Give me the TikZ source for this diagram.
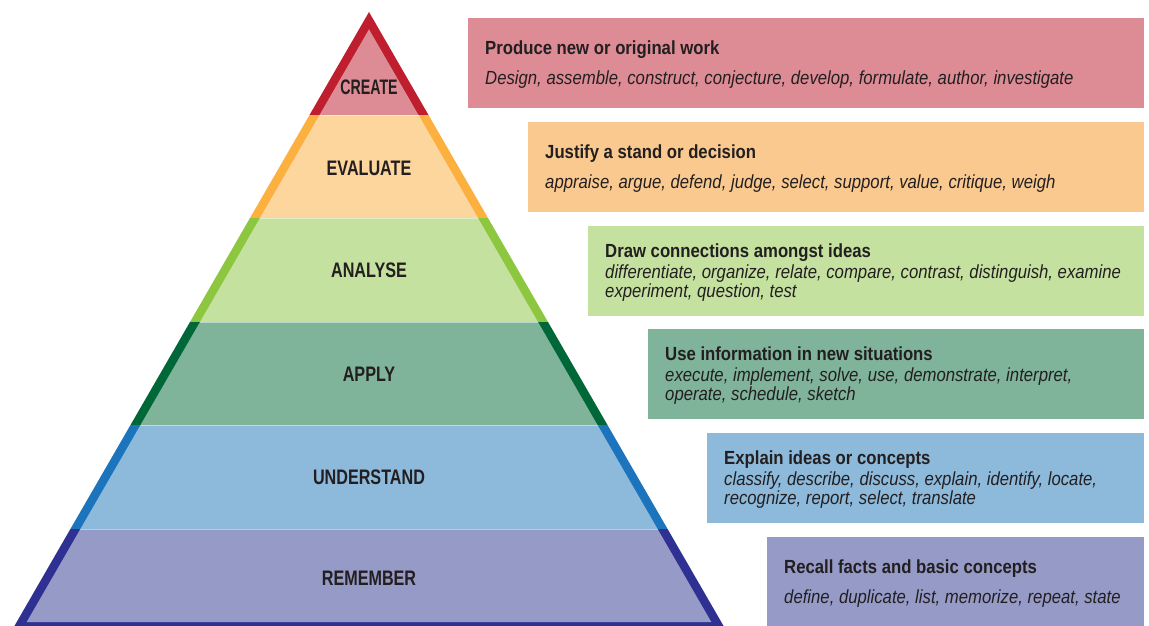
\documentclass[tikz,border=0pt]{standalone}
\usepackage{fontspec}
\setmainfont[FakeStretch=0.88]{Liberation Sans}
\newfontfamily\levelfont[FakeStretch=0.77]{Liberation Sans}
\usepackage{tikz}
\usetikzlibrary{positioning,calc}
\usepackage{xcolor}
\definecolor{inkgray}{RGB}{35,31,32}
\definecolor{createdark}{RGB}{190,30,45}
\definecolor{createlight}{RGB}{221,139,148}
\definecolor{evaluatedark}{RGB}{251,176,64}
\definecolor{evaluatelight}{RGB}{252,214,157}
\definecolor{evaluatebox}{RGB}{249,201,143}
\definecolor{analysedark}{RGB}{141,198,63}
\definecolor{analyselight}{RGB}{197,225,160}
\definecolor{applydark}{RGB}{0,104,56}
\definecolor{applylight}{RGB}{127,179,154}
\definecolor{understanddark}{RGB}{28,117,188}
\definecolor{understandlight}{RGB}{141,185,219}
\definecolor{rememberdark}{RGB}{46,49,146}
\definecolor{rememberlight}{RGB}{149,154,199}
\tikzstyle{verbbox} = [rectangle, anchor=north west, inner sep=0pt, minimum height=89.5pt]
\tikzstyle{verbtext} = [anchor=west, align=left, inner sep=0pt, yshift=-2pt, text=inkgray, font=\fontsize{19}{19}\selectfont]
\tikzstyle{levellabel} = [text=inkgray, font=\levelfont\bfseries\fontsize{21}{22}\selectfont]
\tikzstyle{seam} = [white, opacity=0.45, line width=0.8pt]

\begin{document}
\begin{tikzpicture}[x=1pt, y=-1pt]
\useasboundingbox (0,0) rectangle (1149,626);

% Create
\fill[createdark] (369,12) -- (428.5,115) -- (309.5,115) -- cycle;
\fill[createlight] (369,29.3) -- (418.5,115) -- (319.5,115) -- cycle;
\node[levellabel] (create) at (369,87) {\scalebox{0.88}[1]{CREATE}};

% Evaluate
\fill[evaluatedark] (309.5,115) -- (428.5,115) -- (488,218) -- (250,218) -- cycle;
\fill[evaluatelight] (319.5,115) -- (418.5,115) -- (478,218) -- (260,218) -- cycle;
\draw[seam] (319.5,115) -- (418.5,115);
\node[levellabel] (evaluate) at (369,168) {EVALUATE};

% Analyse
\fill[analysedark] (250,218) -- (488,218) -- (548,322) -- (190,322) -- cycle;
\fill[analyselight] (260,218) -- (478,218) -- (538,322) -- (200,322) -- cycle;
\draw[seam] (260,218) -- (478,218);
\node[levellabel] (analyse) at (369,270) {ANALYSE};

% Apply
\fill[applydark] (190,322) -- (548,322) -- (607.5,425) -- (130.5,425) -- cycle;
\fill[applylight] (200,322) -- (538,322) -- (597.5,425) -- (140.5,425) -- cycle;
\draw[seam] (200,322) -- (538,322);
\node[levellabel] (apply) at (369,374) {APPLY};

% Understand
\fill[understanddark] (130.5,425) -- (607.5,425) -- (667.6,529) -- (70.4,529) -- cycle;
\fill[understandlight] (140.5,425) -- (597.5,425) -- (657.6,529) -- (80.4,529) -- cycle;
\draw[seam] (140.5,425) -- (597.5,425);
\node[levellabel] (understand) at (369,477) {UNDERSTAND};

% Remember
\fill[rememberdark] (70.4,529) -- (667.6,529) -- (723.6,626) -- (14.4,626) -- cycle;
\fill[rememberlight] (80.4,529) -- (657.6,529) -- (711.3,622) -- (26.7,622) -- cycle;
\draw[seam] (80.4,529) -- (657.6,529);
\node[levellabel] (remember) at (369,578) {REMEMBER};

% Verb boxes
\node[verbbox, fill=createlight, minimum width=676pt] (createbox) at (468,18) {};
\node[verbtext, right=17pt of createbox.west] (createtext) {
\textbf{Produce new or original work}\\[11pt]
\textit{Design, assemble, construct, conjecture, develop, formulate, author, investigate}
};

\node[verbbox, fill=evaluatebox, minimum width=616pt] (evaluatebox) at (528,122) {};
\node[verbtext, right=17pt of evaluatebox.west] (evaluatetext) {
\textbf{Justify a stand or decision}\\[11pt]
\textit{appraise, argue, defend, judge, select, support, value, critique, weigh}
};

\node[verbbox, fill=analyselight, minimum width=556pt] (analysebox) at (588,226) {};
\node[verbtext, right=17pt of analysebox.west] (analysetext) {
\textbf{Draw connections amongst ideas}\\[2pt]
\textit{differentiate, organize, relate, compare, contrast, distinguish, examine}\\
\textit{experiment, question, test}
};

\node[verbbox, fill=applylight, minimum width=496pt] (applybox) at (648,329) {};
\node[verbtext, right=17pt of applybox.west] (applytext) {
\textbf{Use information in new situations}\\[2pt]
\textit{execute, implement, solve, use, demonstrate, interpret,}\\
\textit{operate, schedule, sketch}
};

\node[verbbox, fill=understandlight, minimum width=437pt] (understandbox) at (707,433) {};
\node[verbtext, right=17pt of understandbox.west] (understandtext) {
\textbf{Explain ideas or concepts}\\[2pt]
\textit{classify, describe, discuss, explain, identify, locate,}\\
\textit{recognize, report, select, translate}
};

\node[verbbox, fill=rememberlight, minimum width=377pt] (rememberbox) at (767,537) {};
\node[verbtext, right=17pt of rememberbox.west] (remembertext) {
\textbf{Recall facts and basic concepts}\\[11pt]
\textit{define, duplicate, list, memorize, repeat, state}
};
\end{tikzpicture}
\end{document}
